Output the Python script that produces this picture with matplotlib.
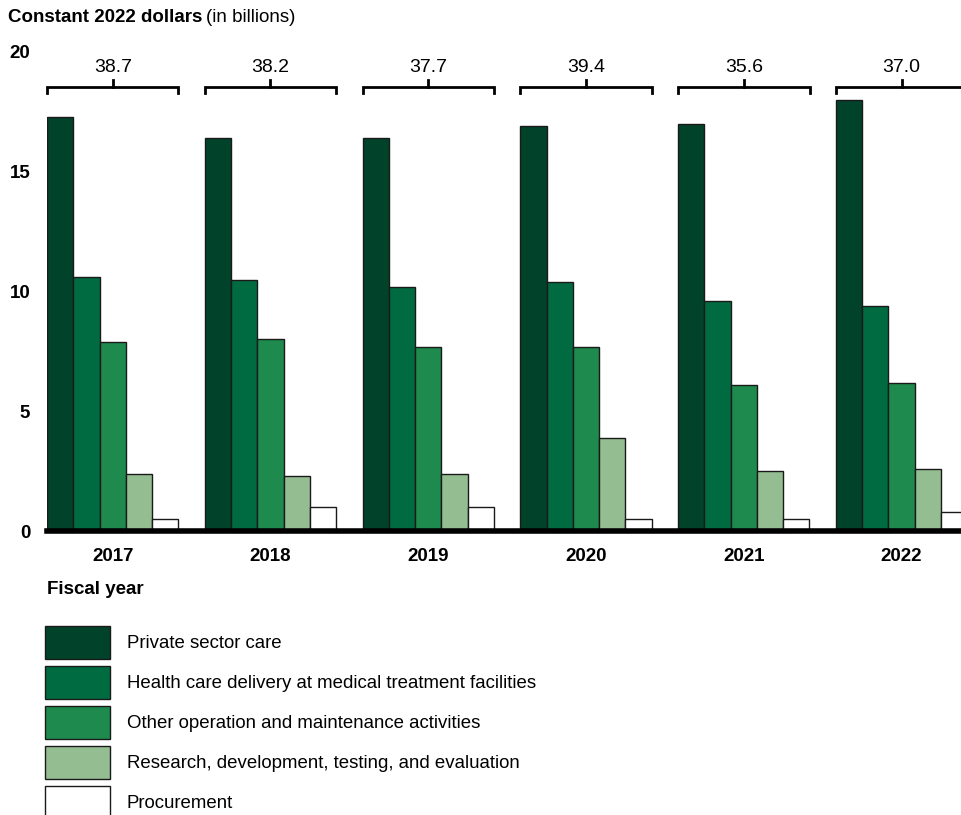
import matplotlib
matplotlib.use('Agg')
import matplotlib.pyplot as plt
from matplotlib.patches import Rectangle

plt.rcParams['font.family'] = ['Liberation Sans', 'DejaVu Sans']

years = ['2017', '2018', '2019', '2020', '2021', '2022']
totals = ['38.7', '38.2', '37.7', '39.4', '35.6', '37.0']
categories = ['Private sector care',
              'Health care delivery at medical treatment facilities',
              'Other operation and maintenance activities',
              'Research, development, testing, and evaluation',
              'Procurement']
private_care = [17.3, 16.4, 16.4, 16.9, 17.0, 18.0]
mtf_delivery = [10.6, 10.5, 10.2, 10.4, 9.6, 9.4]
other_om = [7.9, 8.0, 7.7, 7.7, 6.1, 6.2]
rdte = [2.4, 2.3, 2.4, 3.9, 2.5, 2.6]
procurement = [0.5, 1.0, 1.0, 0.5, 0.5, 0.8]
series = [private_care, mtf_delivery, other_om, rdte, procurement]
colors = ['#00432a', '#006b40', '#1e8a4e', '#95bd92', '#ffffff']

W, H = 962, 815
fig = plt.figure(figsize=(W / 100, H / 100), dpi=100)
ax = fig.add_axes([47 / W, 1 - 531 / H, 1 - 47 / W, (531 - 52) / H])

step = 6
for j, vals in enumerate(series):
    xs = [i * step + j for i in range(len(years))]
    ax.bar(xs, vals, width=1, align='edge', color=colors[j],
           edgecolor='#1a1a1a', linewidth=1.0, zorder=2)

ax.set_xlim(0, 34.8)
ax.set_ylim(0, 20)
ax.set_yticks([0, 5, 10, 15, 20])
ax.set_yticklabels(['0', '5', '10', '15', '20'], fontsize=13.5, fontweight='bold')
ax.tick_params(axis='y', length=0, pad=12)
ax.set_xticks([])
for s in ['top', 'right', 'left']:
    ax.spines[s].set_visible(False)
ax.spines['bottom'].set_linewidth(4)
ax.spines['bottom'].set_zorder(3)

# brackets with totals over each year
for i, (yr, tot) in enumerate(zip(years, totals)):
    x0 = i * step
    x1 = x0 + 5
    xc = x0 + 2.5
    yb = 18.55
    ax.plot([x0, x0, x1, x1], [yb - 0.25, yb, yb, yb - 0.25], color='black',
            lw=2, clip_on=False, solid_joinstyle='miter')
    ax.plot([xc, xc], [yb, yb + 0.3], color='black', lw=2, clip_on=False)
    ax.text(xc, 19.35, tot, ha='center', va='center', fontsize=14)
    ax.text(xc, -1.05, yr, ha='center', va='center', fontsize=13.5,
            fontweight='bold', clip_on=False)

# title
t1 = fig.text(8 / W, 1 - 18 / H, 'Constant 2022 dollars', fontsize=13.5,
              fontweight='bold', va='center', ha='left')
fig.canvas.draw()
bb = t1.get_window_extent()
fig.text((bb.x1 + 4) / W, 1 - 18 / H, '(in billions)', fontsize=13.5,
         va='center', ha='left')

fig.text(47 / W, 1 - 590 / H, 'Fiscal year', fontsize=13.5, fontweight='bold',
         va='center', ha='left')

# legend
for k, (lab, col) in enumerate(zip(categories, colors)):
    top = 626 + 40 * k
    fig.patches.append(Rectangle((45 / W, 1 - (top + 33) / H), 65 / W, 33 / H,
                                 transform=fig.transFigure, facecolor=col,
                                 edgecolor='#1a1a1a', linewidth=1.0))
    fig.text(127 / W, 1 - (top + 18) / H, lab, fontsize=13.4,
             va='center', ha='left')

fig.savefig('out.png', dpi=100)
